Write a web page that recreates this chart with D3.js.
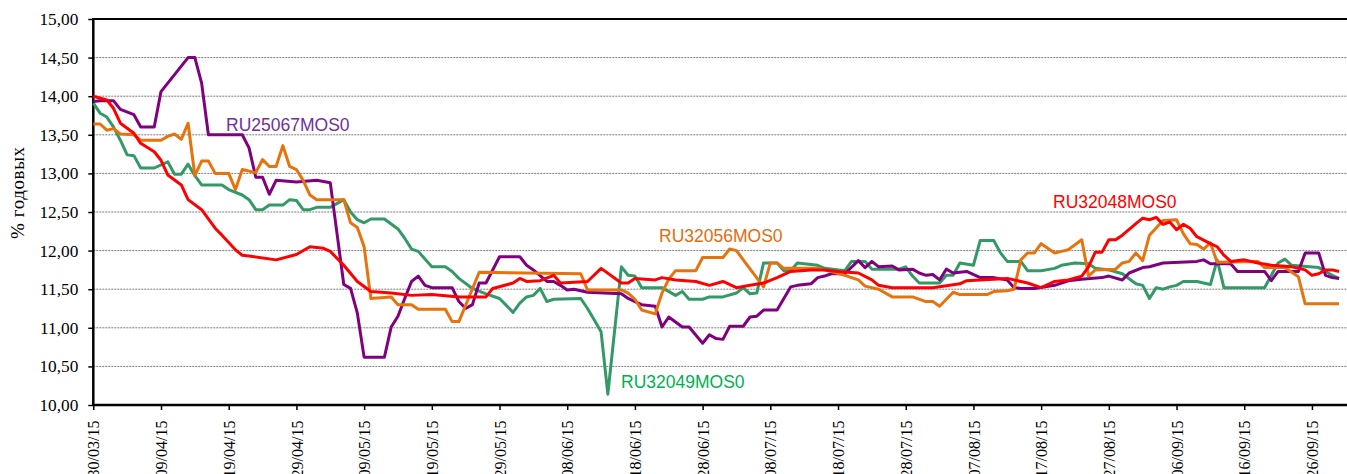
<!DOCTYPE html>
<html>
<head>
<meta charset="utf-8">
<script src="https://cdn.jsdelivr.net/npm/d3@7"></script>
<style>
  body { margin: 0; background: #fff; }
  svg { display: block; }
</style>
</head>
<body>
<div id="chart"></div>
<script>
// tick labels on the date axis (every 10 days)
const xTicks = ["30/03/15", "09/04/15", "19/04/15", "29/04/15", "09/05/15", "19/05/15",
  "29/05/15", "08/06/15", "18/06/15", "28/06/15", "08/07/15", "18/07/15", "28/07/15",
  "07/08/15", "17/08/15", "27/08/15", "06/09/15", "16/09/15", "26/09/15"];
const yTicks = [10, 10.5, 11, 11.5, 12, 12.5, 13, 13.5, 14, 14.5, 15];

// yields, % p.a. (date dd/mm of 2015, value)
const ru32048 = [
  ["30/03", 14.00], ["01/04", 13.95], ["02/04", 13.84], ["03/04", 13.65], ["05/04", 13.52],
  ["06/04", 13.39], ["08/04", 13.28], ["09/04", 13.17], ["10/04", 12.98], ["12/04", 12.85],
  ["13/04", 12.66], ["15/04", 12.53], ["17/04", 12.29], ["18/04", 12.20], ["20/04", 12.01],
  ["21/04", 11.94], ["22/04", 11.93], ["26/04", 11.88], ["29/04", 11.95], ["01/05", 12.05],
  ["03/05", 12.03], ["04/05", 11.99], ["06/05", 11.81], ["08/05", 11.60], ["10/05", 11.47],
  ["13/05", 11.45], ["16/05", 11.42], ["19/05", 11.43], ["23/05", 11.40], ["27/05", 11.40],
  ["28/05", 11.51], ["31/05", 11.58], ["01/06", 11.64], ["02/06", 11.60], ["04/06", 11.61],
  ["06/06", 11.68], ["07/06", 11.58], ["11/06", 11.60], ["13/06", 11.77], ["16/06", 11.58],
  ["17/06", 11.58], ["18/06", 11.64], ["21/06", 11.62], ["22/06", 11.65], ["24/06", 11.62],
  ["27/06", 11.60], ["29/06", 11.55], ["01/07", 11.60], ["03/07", 11.52], ["05/07", 11.55],
  ["07/07", 11.58], ["09/07", 11.65], ["11/07", 11.73], ["14/07", 11.75], ["16/07", 11.75],
  ["18/07", 11.73], ["21/07", 11.71], ["23/07", 11.62], ["24/07", 11.55], ["26/07", 11.52],
  ["01/08", 11.52], ["05/08", 11.57], ["06/08", 11.61], ["12/08", 11.64], ["15/08", 11.58],
  ["17/08", 11.52], ["19/08", 11.60], ["21/08", 11.62], ["23/08", 11.67], ["24/08", 11.79],
  ["25/08", 11.98], ["26/08", 11.98], ["27/08", 12.14], ["28/08", 12.14], ["29/08", 12.20],
  ["31/08", 12.35], ["01/09", 12.42], ["02/09", 12.40], ["03/09", 12.43], ["04/09", 12.34],
  ["05/09", 12.37], ["06/09", 12.27], ["07/09", 12.34], ["08/09", 12.29], ["09/09", 12.18],
  ["11/09", 12.09], ["12/09", 12.05], ["13/09", 11.94], ["14/09", 11.86], ["16/09", 11.88],
  ["17/09", 11.86], ["18/09", 11.84], ["20/09", 11.81], ["23/09", 11.79], ["25/09", 11.75],
  ["26/09", 11.68], ["27/09", 11.70], ["28/09", 11.75], ["29/09", 11.75], ["30/09", 11.73]
];

const ru25067 = [
  ["30/03", 13.93], ["31/03", 13.94], ["02/04", 13.94], ["03/04", 13.83], ["05/04", 13.76],
  ["06/04", 13.60], ["08/04", 13.60], ["09/04", 14.06], ["13/04", 14.50], ["14/04", 14.50],
  ["15/04", 14.17], ["16/04", 13.50], ["21/04", 13.50], ["22/04", 13.33], ["23/04", 12.95],
  ["24/04", 12.95], ["25/04", 12.73], ["26/04", 12.91], ["29/04", 12.89], ["02/05", 12.91],
  ["04/05", 12.88], ["05/05", 12.22], ["06/05", 11.56], ["07/05", 11.51], ["08/05", 11.19],
  ["09/05", 10.62], ["12/05", 10.62], ["13/05", 11.01], ["14/05", 11.15], ["15/05", 11.38],
  ["16/05", 11.60], ["17/05", 11.67], ["18/05", 11.55], ["19/05", 11.52], ["22/05", 11.52],
  ["23/05", 11.34], ["24/05", 11.25], ["25/05", 11.30], ["26/05", 11.58], ["27/05", 11.58],
  ["29/05", 11.92], ["01/06", 11.92], ["02/06", 11.81], ["03/06", 11.75], ["05/06", 11.60],
  ["06/06", 11.60], ["07/06", 11.55], ["08/06", 11.49], ["09/06", 11.50], ["11/06", 11.46],
  ["16/06", 11.44], ["17/06", 11.38], ["18/06", 11.34], ["19/06", 11.30], ["21/06", 11.28],
  ["22/06", 11.01], ["23/06", 11.14], ["25/06", 11.01], ["26/06", 11.01], ["28/06", 10.80],
  ["29/06", 10.91], ["30/06", 10.86], ["01/07", 10.85], ["02/07", 11.02], ["04/07", 11.02],
  ["05/07", 11.14], ["06/07", 11.15], ["07/07", 11.23], ["09/07", 11.23], ["11/07", 11.53],
  ["12/07", 11.55], ["14/07", 11.57], ["15/07", 11.65], ["16/07", 11.67], ["17/07", 11.70],
  ["19/07", 11.70], ["21/07", 11.87], ["22/07", 11.78], ["23/07", 11.86], ["24/07", 11.79],
  ["26/07", 11.80], ["27/07", 11.75], ["29/07", 11.76], ["30/07", 11.71], ["31/07", 11.68],
  ["01/08", 11.69], ["02/08", 11.62], ["03/08", 11.76], ["04/08", 11.71], ["06/08", 11.73],
  ["08/08", 11.65], ["10/08", 11.65], ["12/08", 11.62], ["13/08", 11.52], ["14/08", 11.51],
  ["16/08", 11.51], ["19/08", 11.55], ["21/08", 11.61], ["23/08", 11.63], ["26/08", 11.65],
  ["27/08", 11.67], ["29/08", 11.62], ["30/08", 11.71], ["01/09", 11.78], ["02/09", 11.79],
  ["04/09", 11.84], ["09/09", 11.86], ["10/09", 11.88], ["11/09", 11.83], ["14/09", 11.83],
  ["15/09", 11.73], ["19/09", 11.73], ["20/09", 11.61], ["21/09", 11.73], ["24/09", 11.73],
  ["25/09", 11.97], ["27/09", 11.97], ["28/09", 11.68], ["29/09", 11.65], ["30/09", 11.64]
];

const ru32049 = [
  ["30/03", 13.91], ["31/03", 13.78], ["01/04", 13.73], ["02/04", 13.60], ["03/04", 13.43],
  ["04/04", 13.24], ["05/04", 13.23], ["06/04", 13.07], ["08/04", 13.07], ["10/04", 13.15],
  ["11/04", 12.99], ["12/04", 12.99], ["13/04", 13.12], ["14/04", 12.97], ["15/04", 12.85],
  ["18/04", 12.85], ["19/04", 12.79], ["21/04", 12.72], ["22/04", 12.66], ["23/04", 12.53],
  ["24/04", 12.53], ["25/04", 12.59], ["27/04", 12.59], ["28/04", 12.66], ["29/04", 12.65],
  ["30/04", 12.53], ["01/05", 12.53], ["02/05", 12.56], ["04/05", 12.56], ["06/05", 12.66],
  ["07/05", 12.50], ["08/05", 12.40], ["09/05", 12.36], ["10/05", 12.41], ["12/05", 12.41],
  ["14/05", 12.28], ["15/05", 12.16], ["16/05", 12.02], ["17/05", 11.99], ["19/05", 11.79],
  ["21/05", 11.79], ["22/05", 11.73], ["23/05", 11.64], ["25/05", 11.51], ["27/05", 11.44],
  ["29/05", 11.38], ["31/05", 11.20], ["01/06", 11.32], ["02/06", 11.40], ["03/06", 11.42],
  ["04/06", 11.51], ["05/06", 11.34], ["06/06", 11.37], ["10/06", 11.38], ["11/06", 11.25],
  ["12/06", 11.10], ["13/06", 10.95], ["14/06", 10.14], ["16/06", 11.79], ["17/06", 11.68],
  ["18/06", 11.67], ["19/06", 11.52], ["22/06", 11.52], ["24/06", 11.42], ["25/06", 11.47],
  ["26/06", 11.37], ["28/06", 11.37], ["29/06", 11.40], ["01/07", 11.40], ["03/07", 11.45],
  ["04/07", 11.52], ["05/07", 11.44], ["06/07", 11.45], ["07/07", 11.84], ["09/07", 11.84],
  ["10/07", 11.74], ["11/07", 11.74], ["12/07", 11.84], ["15/07", 11.81], ["16/07", 11.77],
  ["19/07", 11.74], ["20/07", 11.86], ["22/07", 11.86], ["23/07", 11.76], ["27/07", 11.76],
  ["28/07", 11.79], ["29/07", 11.67], ["30/07", 11.58], ["02/08", 11.58], ["03/08", 11.68],
  ["04/08", 11.68], ["05/08", 11.84], ["07/08", 11.81], ["08/08", 12.13], ["10/08", 12.13],
  ["11/08", 11.97], ["12/08", 11.86], ["14/08", 11.86], ["15/08", 11.74], ["17/08", 11.74],
  ["19/08", 11.77], ["20/08", 11.81], ["22/08", 11.84], ["24/08", 11.83], ["25/08", 11.77],
  ["27/08", 11.75], ["29/08", 11.70], ["31/08", 11.57], ["01/09", 11.55], ["02/09", 11.38],
  ["03/09", 11.52], ["04/09", 11.50], ["05/09", 11.53], ["06/09", 11.55], ["07/09", 11.60],
  ["09/09", 11.60], ["11/09", 11.56], ["12/09", 11.88], ["13/09", 11.52], ["19/09", 11.52],
  ["21/09", 11.84], ["22/09", 11.89], ["23/09", 11.81], ["27/09", 11.78], ["28/09", 11.73],
  ["29/09", 11.68], ["30/09", 11.64]
];

const ru32056 = [
  ["30/03", 13.64], ["31/03", 13.64], ["01/04", 13.56], ["02/04", 13.58], ["03/04", 13.51],
  ["05/04", 13.50], ["06/04", 13.43], ["09/04", 13.43], ["10/04", 13.48], ["11/04", 13.51],
  ["12/04", 13.44], ["13/04", 13.65], ["14/04", 12.97], ["15/04", 13.16], ["16/04", 13.16],
  ["17/04", 13.00], ["19/04", 13.00], ["20/04", 12.79], ["21/04", 13.05], ["23/04", 13.01],
  ["24/04", 13.18], ["25/04", 13.09], ["26/04", 13.09], ["27/04", 13.36], ["28/04", 13.09],
  ["29/04", 13.05], ["30/04", 12.91], ["01/05", 12.72], ["02/05", 12.66], ["06/05", 12.66],
  ["07/05", 12.36], ["08/05", 12.30], ["09/05", 12.05], ["10/05", 11.38], ["13/05", 11.40],
  ["14/05", 11.30], ["16/05", 11.30], ["17/05", 11.24], ["21/05", 11.24], ["22/05", 11.08],
  ["23/05", 11.08], ["26/05", 11.72], ["10/06", 11.70], ["11/06", 11.49], ["16/06", 11.49],
  ["17/06", 11.45], ["18/06", 11.37], ["19/06", 11.23], ["21/06", 11.18], ["22/06", 11.45],
  ["23/06", 11.63], ["24/06", 11.74], ["27/06", 11.74], ["28/06", 11.91], ["01/07", 11.91],
  ["02/07", 12.02], ["03/07", 12.00], ["04/07", 11.88], ["07/07", 11.53], ["08/07", 11.84],
  ["09/07", 11.84], ["10/07", 11.77], ["15/07", 11.77], ["17/07", 11.73], ["19/07", 11.68],
  ["21/07", 11.62], ["22/07", 11.54], ["24/07", 11.50], ["26/07", 11.40], ["29/07", 11.40],
  ["31/07", 11.34], ["01/08", 11.34], ["02/08", 11.28], ["04/08", 11.46], ["05/08", 11.43],
  ["09/08", 11.43], ["10/08", 11.47], ["12/08", 11.48], ["13/08", 11.50], ["14/08", 11.88],
  ["15/08", 11.97], ["16/08", 11.97], ["17/08", 12.09], ["19/08", 11.97], ["20/08", 11.99],
  ["21/08", 12.01], ["23/08", 12.14], ["24/08", 11.67], ["25/08", 11.75], ["28/08", 11.76],
  ["29/08", 11.84], ["30/08", 11.86], ["31/08", 11.97], ["01/09", 11.87], ["02/09", 12.20],
  ["04/09", 12.39], ["06/09", 12.40], ["07/09", 12.22], ["08/09", 12.09], ["09/09", 12.08],
  ["10/09", 12.02], ["11/09", 12.10], ["12/09", 11.85], ["18/09", 11.86], ["19/09", 11.78],
  ["22/09", 11.78], ["24/09", 11.66], ["25/09", 11.31], ["30/09", 11.31]
];

const seriesNames = ["RU32049MOS0", "RU25067MOS0", "RU32056MOS0", "RU32048MOS0"];
const seriesData = [ru32049, ru25067, ru32056, ru32048];
const lineColors = ["#339966", "#800080", "#E8720C", "#FF0000"];

// ---------------------------------
// layout
// ---------------------------------
const W = 1347, H = 474;
const plotLeft = 93.3, plotTop = 19, plotBottom = 405;

const parseDay = d3.utcParse("%d/%m/%y");
const toDate = s => parseDay(s + "/15");

const x = d3.scaleUtc()
  .domain([parseDay("30/03/15"), parseDay("01/10/15")])
  .range([plotLeft, 1345.8]);
const y = d3.scaleLinear().domain([10, 15]).range([plotBottom, plotTop]);

const svg = d3.select("#chart").append("svg")
  .attr("width", W)
  .attr("height", H);

// dotted grid
svg.append("g")
  .selectAll("line")
  .data(yTicks.filter(v => v > 10 && v < 15))
  .join("line")
  .attr("x1", plotLeft).attr("x2", W)
  .attr("y1", d => y(d)).attr("y2", d => y(d))
  .attr("stroke", "#7a7a7a")
  .attr("stroke-width", 1)
  .attr("stroke-dasharray", "2,1");

// y axis
const fmt = v => d3.format(".2f")(v).replace(".", ",");
const yAxis = d3.axisLeft(y).tickValues(yTicks).tickSize(5).tickFormat(fmt);
const gy = svg.append("g").attr("transform", `translate(${plotLeft},0)`).call(yAxis);
gy.select(".domain").remove();
gy.selectAll(".tick line").attr("stroke", "#000").attr("stroke-width", 1.5);
gy.selectAll(".tick text")
  .attr("x", -15)
  .attr("fill", "#000")
  .style("font-family", "'Liberation Serif', 'Times New Roman', serif")
  .style("font-size", "17.3px");

// x axis, labels turned upright and clipped by the page edge as in the source
const xAxis = d3.axisBottom(x).tickValues(xTicks.map(parseDay)).tickSize(5).tickFormat(d3.utcFormat("%d/%m/%y"));
const gx = svg.append("g").attr("transform", `translate(0,${plotBottom})`).call(xAxis);
gx.select(".domain").remove();
gx.selectAll(".tick line").attr("stroke", "#000").attr("stroke-width", 1.5);
gx.selectAll(".tick text")
  .attr("fill", "#000")
  .attr("text-anchor", "end")
  .attr("transform", "translate(0,15.5) rotate(-90)")
  .attr("x", 0).attr("y", 0).attr("dy", "0.35em")
  .style("font-family", "'Liberation Serif', 'Times New Roman', serif")
  .style("font-size", "16px");

// plot frame (left, top, bottom)
svg.append("line").attr("x1", plotLeft).attr("x2", W).attr("y1", plotTop).attr("y2", plotTop)
  .attr("stroke", "#000").attr("stroke-width", 2);
svg.append("line").attr("x1", plotLeft).attr("x2", W).attr("y1", plotBottom).attr("y2", plotBottom)
  .attr("stroke", "#000").attr("stroke-width", 2.5);
svg.append("line").attr("x1", plotLeft).attr("x2", plotLeft).attr("y1", plotTop - 1).attr("y2", plotBottom + 1)
  .attr("stroke", "#000").attr("stroke-width", 2.5);

// series lines
const line = d3.line()
  .x(d => x(toDate(d[0])))
  .y(d => y(d[1]));

svg.append("g")
  .selectAll("path")
  .data(seriesData)
  .join("path")
  .attr("fill", "none")
  .attr("stroke", (d, i) => lineColors[i])
  .attr("stroke-width", 3)
  .attr("stroke-linejoin", "round")
  .attr("d", line);

// series labels
const labels = [
  { text: "RU25067MOS0", color: "#7030A0", px: 226, py: 131 },
  { text: "RU32056MOS0", color: "#E46C0A", px: 659, py: 242 },
  { text: "RU32049MOS0", color: "#00B050", px: 621, py: 388 },
  { text: "RU32048MOS0", color: "#FF0000", px: 1053, py: 208 }
];
svg.append("g")
  .selectAll("text")
  .data(labels)
  .join("text")
  .attr("x", d => d.px)
  .attr("y", d => d.py)
  .attr("fill", d => d.color)
  .style("font-family", "'Liberation Sans', Arial, sans-serif")
  .style("font-size", "17.5px")
  .text(d => d.text);

// y title
svg.append("text")
  .attr("transform", "translate(17,193) rotate(-90)")
  .attr("text-anchor", "middle")
  .attr("dy", "0.35em")
  .attr("textLength", 92)
  .attr("lengthAdjust", "spacing")
  .style("font-family", "'Liberation Serif', 'Times New Roman', serif")
  .style("font-size", "19px")
  .text("% годовых");
</script>
</body>
</html>
